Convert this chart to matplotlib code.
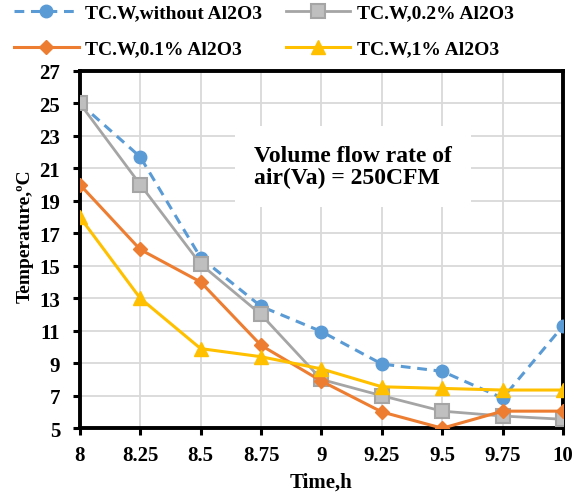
import matplotlib.pyplot as plt
from matplotlib.ticker import FixedLocator

plt.rcParams['font.family'] = ['Liberation Serif', 'DejaVu Serif']
plt.rcParams['font.weight'] = 'bold'

# water temperature over the day, air flow 250 CFM
time_h = [8, 8.25, 8.5, 8.75, 9, 9.25, 9.5, 9.75, 10]
time_labels = ['8', '8.25', '8.5', '8.75', '9', '9.25', '9.5', '9.75', '10']
tcw_without = [25, 21.7, 15.5, 12.5, 10.95, 8.95, 8.5, 6.85, 11.3]
tcw_02 = [25, 20, 15.1, 12, 8, 7, 6.05, 5.75, 5.55]
tcw_01 = [20, 16, 14, 10.1, 7.9, 6, 5, 6.05, 6.05]
tcw_1 = [18, 13, 9.9, 9.4, 8.65, 7.55, 7.45, 7.35, 7.35]
y_ticks = [5, 7, 9, 11, 13, 15, 17, 19, 21, 23, 25, 27]

fig = plt.figure(figsize=(5.74, 5.02), dpi=100)
ax = fig.add_axes([0.139, 0.145, 0.842, 0.712])

l_blue, = ax.plot(time_h, tcw_without, color='#5B9BD5', lw=2.2, ls=(0, (3.2, 2.2)),
                  marker='o', ms=9, mfc='#5B9BD5', mec='#5B9BD5',
                  label='TC.W,without Al2O3', zorder=3)
l_gray, = ax.plot(time_h, tcw_02, color='#A5A5A5', lw=2.0,
                  marker='s', ms=9.5, mfc='#BFBFBF', mec='#A5A5A5', mew=1.5,
                  label='TC.W,0.2% Al2O3', zorder=4)
l_orange, = ax.plot(time_h, tcw_01, color='#ED7D31', lw=2.2,
                    marker='D', ms=7.5, mfc='#ED7D31', mec='#ED7D31',
                    label='TC.W,0.1% Al2O3', zorder=5)
l_yellow, = ax.plot(time_h, tcw_1, color='#FFC000', lw=2.2,
                    marker='^', ms=10.5, mfc='#FFC000', mec='#FFC000',
                    label='TC.W,1% Al2O3', zorder=6)

ax.set_xlim(8, 10)
ax.set_ylim(5, 27)
ax.xaxis.set_major_locator(FixedLocator(time_h))
ax.set_xticklabels(time_labels)
ax.set_yticks(y_ticks)
ax.grid(True, color='#D9D9D9', lw=1.3)
ax.set_axisbelow(True)

for sp in ax.spines.values():
    sp.set_linewidth(2.8)
    sp.set_color('black')
ax.tick_params(axis='both', direction='out', length=5, width=2.2,
               labelsize=15)
ax.tick_params(axis='x', pad=7)
ax.tick_params(axis='y', pad=9)

ax.set_xlabel('Time,h', fontsize=15, fontweight='bold', labelpad=5)
ax.set_ylabel('Temperature,ºC', fontsize=14, fontweight='bold')
ax.yaxis.set_label_coords(-0.095, 0.54)

ax.text(8.72, 21.1, 'Volume flow rate of\nair(Va) = 250CFM', fontsize=17,
        fontweight='bold', va='center', ha='left', linespacing=1.05,
        bbox=dict(boxstyle='square,pad=0.8', fc='white', ec='none'), zorder=2)

fig.legend(handles=[l_blue, l_orange, l_gray, l_yellow], ncol=2,
           loc='upper left', bbox_to_anchor=(0.025, 0.99), frameon=False,
           fontsize=14, handlelength=3.3, handletextpad=0.35,
           columnspacing=1.2, labelspacing=0.95, borderpad=0, borderaxespad=0)

fig.savefig('out.png', dpi=100)
